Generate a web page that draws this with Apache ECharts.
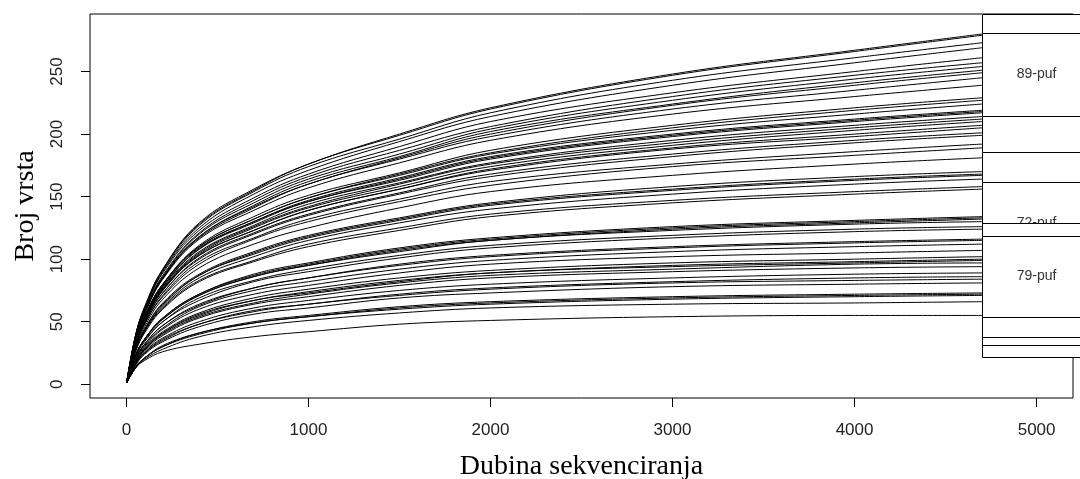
<!DOCTYPE html>
<html>
<head>
<meta charset="utf-8">
<script src="https://cdn.jsdelivr.net/npm/echarts@6/dist/echarts.min.js"></script>
<style>
  html, body { margin: 0; padding: 0; background: #fff; }
  #chart { width: 1080px; height: 479px; }
</style>
</head>
<body>
<div id="chart"></div>
<script>
// sequencing depth points where the curves were read
const xDepth = [1, 50, 100, 200, 400, 700, 1000, 1500, 2000, 3000, 4000, 4700];

// species counts per sample (one row per rarefaction curve)
const curves = [
  [1, 39, 62, 92, 129, 156, 176, 200, 221, 248, 267, 280],
  [1, 39, 61, 92, 128, 155, 176, 199, 220, 247, 266, 279],
  [1, 39, 61, 91, 127, 154, 174, 196, 217, 243, 261, 273],
  [1, 38, 60, 90, 125, 152, 171, 194, 214, 239, 257, 269],
  [1, 38, 60, 89, 123, 149, 168, 190, 210, 233, 250, 261],
  [1, 37, 59, 87, 121, 147, 166, 187, 206, 230, 247, 257],
  [1, 37, 58, 86, 120, 145, 164, 184, 204, 227, 244, 254],
  [1, 36, 57, 85, 118, 143, 162, 182, 202, 224, 241, 251],
  [1, 36, 57, 85, 118, 142, 160, 181, 200, 223, 239, 249],
  [1, 36, 57, 85, 117, 141, 160, 180, 198, 220, 235, 245],
  [1, 36, 56, 84, 116, 139, 157, 177, 195, 216, 230, 239],
  [1, 34, 54, 80, 111, 134, 151, 169, 187, 207, 221, 229],
  [1, 34, 54, 80, 110, 132, 149, 168, 185, 205, 219, 227],
  [1, 34, 54, 80, 110, 132, 149, 167, 184, 203, 216, 224],
  [1, 34, 53, 79, 109, 130, 147, 165, 182, 200, 212, 219],
  [1, 34, 53, 78, 108, 130, 146, 164, 181, 199, 211, 218],
  [1, 34, 53, 78, 108, 129, 146, 163, 180, 198, 210, 217],
  [1, 33, 52, 77, 106, 127, 144, 161, 177, 195, 207, 214],
  [1, 33, 52, 76, 105, 126, 142, 160, 176, 193, 205, 212],
  [1, 33, 51, 76, 104, 125, 141, 158, 174, 191, 203, 210],
  [1, 32, 50, 75, 103, 123, 139, 156, 172, 189, 200, 207],
  [1, 32, 51, 75, 103, 123, 139, 156, 171, 188, 198, 205],
  [1, 32, 50, 73, 101, 121, 136, 153, 168, 184, 195, 201],
  [1, 31, 49, 73, 100, 120, 135, 152, 166, 182, 193, 199],
  [1, 31, 48, 71, 98, 117, 132, 148, 162, 176, 186, 192],
  [1, 30, 48, 70, 96, 116, 130, 146, 159, 174, 183, 189],
  [1, 29, 46, 68, 93, 112, 125, 141, 154, 167, 176, 181],
  [1, 28, 44, 65, 88, 106, 119, 133, 145, 158, 166, 170],
  [1, 28, 44, 64, 87, 105, 118, 132, 144, 156, 164, 168],
  [1, 28, 43, 63, 87, 104, 117, 131, 143, 155, 163, 167],
  [1, 27, 43, 62, 85, 102, 115, 129, 140, 152, 160, 164],
  [1, 26, 42, 61, 83, 99, 112, 125, 136, 147, 154, 158],
  [1, 26, 41, 60, 82, 98, 110, 123, 134, 145, 152, 156],
  [1, 23, 36, 53, 72, 88, 97, 109, 117, 126, 131, 134],
  [1, 23, 36, 53, 72, 87, 96, 108, 116, 125, 130, 133],
  [1, 23, 36, 52, 71, 86, 95, 107, 115, 124, 129, 132],
  [1, 23, 36, 52, 71, 86, 95, 106, 115, 123, 128, 130],
  [1, 22, 35, 50, 69, 83, 92, 103, 111, 119, 124, 126],
  [1, 22, 34, 50, 67, 82, 90, 101, 109, 117, 122, 124],
  [1, 21, 32, 47, 64, 77, 85, 96, 103, 110, 114, 116],
  [1, 20, 32, 47, 63, 77, 85, 95, 102, 109, 113, 115],
  [1, 20, 31, 45, 62, 75, 82, 92, 99, 106, 110, 112],
  [1, 19, 30, 44, 60, 72, 79, 89, 96, 102, 105, 107],
  [1, 18, 29, 42, 57, 69, 76, 85, 91, 97, 100, 102],
  [1, 18, 28, 41, 56, 67, 74, 83, 89, 95, 98, 100],
  [1, 18, 28, 41, 55, 67, 73, 82, 89, 94, 97, 99],
  [1, 17, 28, 40, 54, 65, 72, 81, 87, 92, 96, 97],
  [1, 17, 27, 39, 53, 64, 70, 79, 85, 90, 93, 94],
  [1, 16, 26, 37, 50, 61, 67, 75, 80, 85, 88, 89],
  [1, 16, 25, 36, 48, 59, 64, 72, 77, 82, 85, 86],
  [1, 16, 25, 35, 48, 58, 64, 71, 76, 81, 83, 84],
  [1, 15, 24, 34, 46, 56, 61, 69, 73, 78, 80, 81],
  [1, 14, 21, 31, 41, 50, 55, 62, 66, 70, 72, 73],
  [1, 13, 21, 30, 41, 49, 54, 61, 65, 69, 71, 72],
  [1, 13, 21, 30, 40, 49, 54, 60, 64, 68, 70, 71],
  [1, 13, 20, 28, 38, 46, 51, 57, 61, 64, 65, 66],
  [1, 13, 19, 26, 32, 38, 42, 48, 51, 54, 55, 55]
];

const xTicks = [0, 1000, 2000, 3000, 4000, 5000];
const yTicks = [0, 50, 100, 150, 200, 250];

// label boxes at the curve ends, drawn in this order (later ones cover earlier)
const boxTop = [296, 251.2, 185.7, 161.7, 128.9, 87.3, 96.9, 103.3, 118.5, 280.8];
const boxBottom = [230.4, 185.7, 120.1, 96.1, 63.3, 21.8, 31.4, 37.8, 53.8, 214.5];
const boxLabels = ['', '', '', '72-puf', '', '', '', '', '79-puf', '89-puf'];

let myChart = echarts.init(document.getElementById('chart'));

const lineSeries = curves.map(c => ({
  type: 'line',
  data: xDepth.map((x, i) => [x, c[i]]),
  showSymbol: false,
  smooth: 0.4,
  silent: true,
  lineStyle: { color: '#000', width: 1 }
}));

const boxSeries = {
  type: 'custom',
  z: 10,
  clip: false,
  silent: true,
  data: boxTop.map((t, i) => [4700, 5600, t, boxBottom[i]]),
  encode: { x: [0, 1], y: [2, 3] },
  renderItem: function (params, api) {
    const i = params.dataIndex;
    const tl = api.coord([api.value(0), api.value(2)]);
    const br = api.coord([api.value(1), api.value(3)]);
    const mid = api.coord([5000, (api.value(2) + api.value(3)) / 2]);
    return {
      type: 'group',
      children: [
        {
          type: 'rect',
          z2: i * 10,
          shape: { x: Math.round(tl[0]) + 0.5, y: Math.round(tl[1]) + 0.5, width: br[0] - tl[0], height: Math.round(br[1] - tl[1]) },
          style: { fill: '#fff', stroke: '#000', lineWidth: 1 }
        },
        {
          type: 'text',
          z2: i * 10 + 1,
          x: mid[0],
          y: mid[1],
          style: {
            text: boxLabels[i],
            fill: '#333',
            font: '14px "Liberation Sans", Arial, sans-serif',
            align: 'center',
            verticalAlign: 'middle'
          }
        }
      ]
    };
  }
};

myChart.setOption({
  animation: false,
  backgroundColor: '#fff',
  grid: {
    left: 90,
    right: 7,
    top: 14,
    bottom: 81,
    outerBoundsMode: 'none',
    show: true,
    borderColor: '#000',
    borderWidth: 1,
    backgroundColor: 'transparent'
  },
  xAxis: {
    type: 'value',
    min: -200,
    max: 5200,
    splitLine: { show: false },
    axisLine: { show: false, onZero: false },
    axisTick: { show: true, length: 9, customValues: xTicks, lineStyle: { color: '#000' } },
    axisLabel: {
      customValues: xTicks,
      formatter: v => String(v),
      margin: 24,
      color: '#222',
      fontSize: 17,
      fontFamily: 'Liberation Sans'
    },
    name: 'Dubina sekvenciranja',
    nameLocation: 'middle',
    nameGap: 55,
    nameTextStyle: { fontFamily: 'Liberation Serif', fontSize: 28, color: '#000' }
  },
  yAxis: {
    type: 'value',
    min: -11,
    max: 296,
    splitLine: { show: false },
    axisLine: { show: false, onZero: false },
    axisTick: { show: true, length: 9, customValues: yTicks, lineStyle: { color: '#000' } },
    axisLabel: {
      customValues: yTicks,
      formatter: v => String(v),
      rotate: 90,
      margin: 24,
      color: '#222',
      fontSize: 17,
      fontFamily: 'Liberation Sans'
    },
    name: 'Broj vrsta',
    nameLocation: 'middle',
    nameGap: 50,
    nameTextStyle: { fontFamily: 'Liberation Serif', fontSize: 28, color: '#000' }
  },
  series: lineSeries.concat([boxSeries])
});

window.onresize = function () {
  myChart.resize();
};
</script>
</body>
</html>
